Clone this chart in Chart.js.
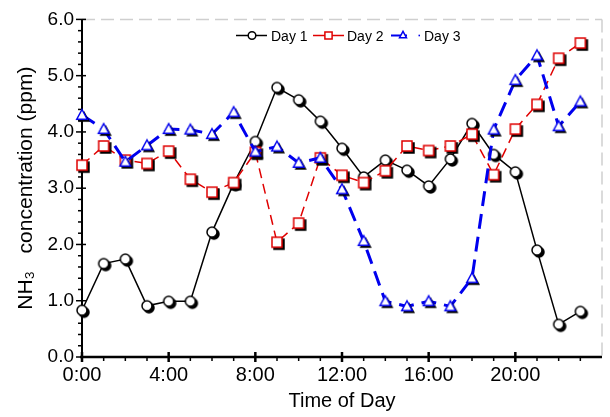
<!DOCTYPE html>
<html>
<head>
<meta charset="utf-8">
<script src="https://cdn.jsdelivr.net/npm/chart.js@4/dist/chart.umd.min.js"></script>
<style>
html,body{margin:0;padding:0;background:#fff;}
#wrap{width:610px;height:417px;}
</style>
</head>
<body>
<div id="wrap"><canvas id="c" width="610" height="417"></canvas></div>
<script>
const hours = [0,1,2,3,4,5,6,7,8,9,10,11,12,13,14,15,16,17,18,19,20,21,22,23];
const day1 = [0.83,1.66,1.74,0.91,0.99,0.99,2.22,3.08,3.83,4.79,4.57,4.19,3.71,3.20,3.50,3.32,3.04,3.52,4.15,3.60,3.29,1.90,0.58,0.81];
const day2 = [3.41,3.75,3.50,3.44,3.66,3.16,2.93,3.10,3.64,2.04,2.38,3.54,3.23,3.10,3.31,3.75,3.67,3.75,3.96,3.24,4.05,4.49,5.31,5.58];
const day3 = [4.30,4.05,3.47,3.76,4.05,4.04,3.96,4.35,3.65,3.74,3.45,3.54,2.98,2.06,0.99,0.90,0.99,0.90,1.40,4.04,4.92,5.36,4.10,4.54];
const seriesNames = ['Day 1','Day 2','Day 3'];
const xTickHours = [0,4,8,12,16,20];
const yTickValues = [0,1,2,3,4,5,6];

function shapePath(ctx, shape, cx, cy, r){
  ctx.beginPath();
  if(shape==='circle'){ ctx.arc(cx,cy,r,0,Math.PI*2); }
  else if(shape==='rect'){ ctx.rect(cx-r,cy-r,2*r,2*r); }
  else { const h=r*1.1; ctx.moveTo(cx,cy-h); ctx.lineTo(cx+r*1.05,cy+h*0.75); ctx.lineTo(cx-r*1.05,cy+h*0.75); ctx.closePath(); }
}
function makeMarker(shape, color, r, lw){
  const S = Math.ceil(2*r+10);
  const c = document.createElement('canvas'); c.width=S; c.height=S;
  const g = c.getContext('2d');
  const cx=S/2, cy=S/2;
  g.fillStyle='#000';
  shapePath(g,shape,cx+2,cy+2,r+lw/2); g.fill();
  shapePath(g,shape,cx,cy,r); g.fillStyle='#fff'; g.fill();
  g.lineWidth=lw; g.strokeStyle=color; g.stroke();
  return c;
}
const mk1 = makeMarker('circle','#000',5,1.5);
const mk2 = makeMarker('rect','#e00000',5,1.5);
const mk3 = makeMarker('tri','#0000ee',5,1.5);

const toXY = arr => arr.map((v,i)=>({x:hours[i], y:v}));

function seg(ctx,x1,y1,x2,y2){ctx.beginPath();ctx.moveTo(x1,y1);ctx.lineTo(x2,y2);ctx.stroke();}

const axisDecor = {
  id:'axisDecor',
  beforeDatasetsDraw(chart){
    const {ctx, chartArea:a, scales:{x,y}} = chart;
    ctx.save();
    ctx.strokeStyle='#cfcfcf'; ctx.lineWidth=1.5; ctx.setLineDash([13,6]);
    seg(ctx,a.left,a.top,a.right,a.top);
    seg(ctx,a.right,a.top,a.right,a.bottom);
    ctx.setLineDash([]);
    ctx.strokeStyle='#000';
    ctx.lineWidth=2; seg(ctx,a.left,a.top,a.left,a.bottom);
    ctx.lineWidth=2.5; seg(ctx,a.left-2,a.bottom,a.right,a.bottom);
    ctx.lineWidth=1.5;
    for(let k=0;k<=30;k++){
      const v=k*0.2, p=y.getPixelForValue(v);
      if(k%5===0) seg(ctx,a.left-6,p,a.left+4,p); else seg(ctx,a.left-4,p,a.left,p);
    }
    for(let h=0;h<=23;h++){
      const p=x.getPixelForValue(h);
      if(h%4===0){ ctx.lineWidth=2.5; seg(ctx,p,a.bottom-5,p,a.bottom+5); }
      else { ctx.lineWidth=1.5; seg(ctx,p,a.bottom,p,a.bottom+4); }
    }
    ctx.restore();
  }
};

const legendDecor = {
  id:'legendDecor',
  afterDatasetsDraw(chart){
    const ctx = chart.ctx;
    ctx.save();
    const yc = 35.5;
    ctx.font = '14px "Liberation Sans", Arial, sans-serif';
    ctx.textBaseline = 'alphabetic';
    ctx.strokeStyle='#000'; ctx.lineWidth=1.5;
    seg(ctx,236,yc,267,yc);
    shapePath(ctx,'circle',252,yc,3.8); ctx.fillStyle='#fff'; ctx.fill(); ctx.stroke();
    ctx.strokeStyle='#e00000';
    seg(ctx,313,yc,344,yc);
    shapePath(ctx,'rect',328.5,yc,3.6); ctx.fill(); ctx.stroke();
    ctx.strokeStyle='#0000ee'; ctx.lineWidth=2;
    seg(ctx,391,yc,407,yc);
    ctx.lineWidth=1.5;
    shapePath(ctx,'tri',403,yc-0.5,3.3); ctx.fill(); ctx.stroke();
    ctx.fillStyle='#0000ee'; ctx.fillRect(418.5,yc-0.8,1.5,1.6);
    ctx.fillStyle='#000';
    ctx.fillText(seriesNames[0],271,40.7);
    ctx.fillText(seriesNames[1],347,40.7);
    ctx.fillText(seriesNames[2],424,40.7);
    ctx.restore();
  }
};

new Chart(document.getElementById('c'), {
  type:'line',
  data:{
    datasets:[
      {label:seriesNames[0], data:toXY(day1), borderColor:'#000', borderWidth:1.5, pointStyle:mk1, pointRadius:5, order:3, clip:false, tension:0},
      {label:seriesNames[1], data:toXY(day2), borderColor:'#e00000', borderWidth:1.5, borderDash:[10,6], pointStyle:mk2, pointRadius:5, order:2, clip:false, tension:0},
      {label:seriesNames[2], data:toXY(day3), borderColor:'#0000ee', borderWidth:3, borderDash:[15,8], pointStyle:mk3, pointRadius:5, order:1, clip:false, tension:0}
    ]
  },
  options:{
    responsive:false,
    animation:false,
    layout:{padding:{left:0,top:16,right:3,bottom:0}},
    plugins:{legend:{display:false}, tooltip:{enabled:false}},
    scales:{
      x:{
        type:'linear', min:0, max:24,
        afterFit(s){ s.height=60; },
        afterBuildTicks(s){ s.ticks = xTickHours.map(v=>({value:v})); },
        grid:{display:false, drawTicks:false},
        border:{display:false},
        ticks:{autoSkip:false, maxRotation:0, padding:6, color:'#000',
          font:{family:'"Liberation Sans", Arial, sans-serif', size:20},
          callback:v=>v+':00'},
        title:{display:true, text:'Time of Day', color:'#000',
          font:{family:'"Liberation Sans", Arial, sans-serif', size:20},
          padding:{top:0,bottom:4}}
      },
      y:{
        type:'linear', min:0, max:6,
        afterFit(s){ s.width=82; },
        afterBuildTicks(s){ s.ticks = yTickValues.map(v=>({value:v})); },
        grid:{display:false, drawTicks:false},
        border:{display:false},
        ticks:{padding:8, color:'#000',
          font:{family:'"Liberation Sans", Arial, sans-serif', size:19},
          callback:v=>Number(v).toFixed(1)},
        title:{display:true, text:'NH\u2083   concentration (ppm)', color:'#000',
          font:{family:'"Liberation Sans", Arial, sans-serif', size:21},
          padding:{top:14,bottom:0}}
      }
    }
  },
  plugins:[axisDecor, legendDecor]
});
</script>
</body>
</html>
